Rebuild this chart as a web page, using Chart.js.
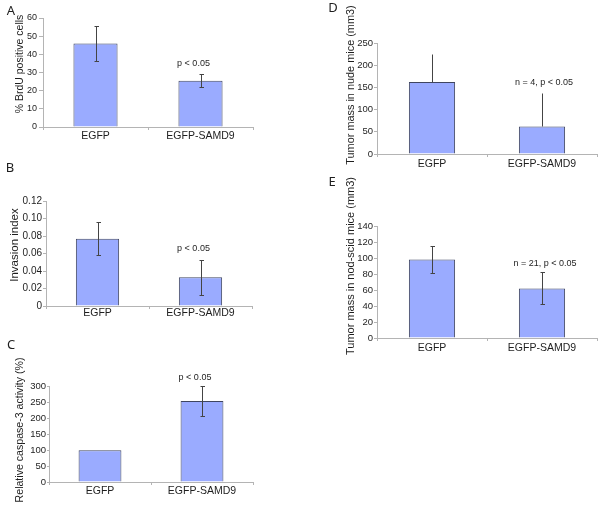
<!DOCTYPE html>
<html>
<head>
<meta charset="utf-8">
<script src="https://cdn.jsdelivr.net/npm/chart.js@4/dist/chart.umd.min.js"></script>
<style>
    html, body { margin: 0; padding: 0; background: #fff; }
    #fig { position: relative; width: 600px; height: 509px; overflow: hidden; background: #fff; }
    #fig canvas { position: absolute; }
</style>
</head>
<body>
<div id="fig"></div>
<script>
/* SAMD9 figure: five small bar panels A-E */
const categories = ["EGFP", "EGFP-SAMD9"];

const brduPct = [46, 25.5];
const brduErr = [9.5, 3.5];

const invasionIdx = [0.077, 0.033];
const invasionErr = [0.019, 0.02];

const caspasePct = [99, 253];
const caspaseErr = [0, 47];

const nudeMass = [162, 62];
const nudeErr = [64, 75];

const nodScidMass = [98, 62];
const nodScidErr = [17, 20];

/* y axis ranges: [max, step] */
const yRangeA = [60, 10];
const yRangeB = [0.12, 0.02];
const yRangeC = [300, 50];
const yRangeD = [250, 50];
const yRangeE = [140, 20];

const panels = [
    { letter: "A", values: brduPct, err: brduErr, range: yRangeA, title: "% BrdU positive cells", note: "p < 0.05", lower: true, caps: true },
    { letter: "B", values: invasionIdx, err: invasionErr, range: yRangeB, title: "Invasion index", note: "p < 0.05", lower: true, caps: true },
    { letter: "C", values: caspasePct, err: caspaseErr, range: yRangeC, title: "Relative caspase-3 activity (%)", note: "p < 0.05", lower: true, caps: true },
    { letter: "D", values: nudeMass, err: nudeErr, range: yRangeD, title: "Tumor mass in nude mice (mm3)", note: "n = 4, p < 0.05", lower: false, caps: false },
    { letter: "E", values: nodScidMass, err: nodScidErr, range: yRangeE, title: "Tumor mass in nod-scid mice (mm3)", note: "n = 21, p < 0.05", lower: true, caps: true }
];

/* page geometry of each panel (px) */
const layout = {
    A: { cx: 0,   cy: 0,   left: 43,  right: 253, top: 18,  bottom: 127, lx: 11,  ly: 11,  tx: 20,  ty: 64,  tsize: 10.5, tick: 9,   tLen: 4, tPad: 2, noteDx: -7, noteGap: 11, labPad: 0 },
    B: { cx: 0,   cy: 160, left: 46,  right: 252, top: 201, bottom: 306, lx: 10,  ly: 168, tx: 15,  ty: 245, tsize: 11.5, tick: 10,  tLen: 3, tPad: 1, noteDx: -7, noteGap: 11, labPad: -2 },
    C: { cx: 0,   cy: 330, left: 49,  right: 253, top: 386, bottom: 482, lx: 11,  ly: 345, tx: 20,  ty: 430, tsize: 10.6, tick: 9.5, tLen: 2, tPad: 1, noteDx: -7, noteGap: 8,  labPad: 0 },
    D: { cx: 300, cy: 0,   left: 377, right: 597, top: 43,  bottom: 154, lx: 333, ly: 8,   tx: 351, ty: 85,  tsize: 10.9, tick: 9.5, tLen: 3, tPad: 1, noteDx: 2,  noteGap: 11, labPad: 1 },
    E: { cx: 300, cy: 160, left: 377, right: 597, top: 226, bottom: 338, lx: 332, ly: 182, tx: 351, ty: 266, tsize: 11,   tick: 9.5, tLen: 3, tPad: 1, noteDx: 3,  noteGap: 9,  labPad: 1 }
};

const FONT = "'Liberation Sans', Arial, sans-serif";
const AXIS = "#b4b4b4";
const INK = "#1e1e1e";
const X_AXIS_H = 22;

/* ---------- plugins ---------- */
const errorBars = {
    id: "errorBars",
    afterDatasetsDraw(chart) {
        const ds = chart.data.datasets[0];
        const { ctx, scales: { x, y } } = chart;
        ctx.save();
        ctx.strokeStyle = "#444";
        ctx.lineWidth = 1;
        ds.data.forEach((v, i) => {
            const e = ds.errPlus[i];
            if (!e) return;
            const px = Math.round(x.getPixelForValue(i)) + 0.5;
            const top = Math.round(y.getPixelForValue(v + e)) + 0.5;
            const bot = Math.round(y.getPixelForValue(ds.lower ? v - e : v)) + 0.5;
            ctx.beginPath();
            ctx.moveTo(px, top); ctx.lineTo(px, bot);
            if (ds.caps) {
                ctx.moveTo(px - 2, top); ctx.lineTo(px + 2.5, top);
                if (ds.lower) { ctx.moveTo(px - 2, bot); ctx.lineTo(px + 2.5, bot); }
            }
            ctx.stroke();
        });
        // significance note over the second bar
        const g = ds.geo;
        const i = 1;
        const ny = y.getPixelForValue(ds.data[i] + ds.errPlus[i]) - g.noteGap;
        ctx.fillStyle = INK;
        ctx.font = "9px " + FONT;
        ctx.textAlign = "center";
        ctx.textBaseline = "middle";
        ctx.fillText(ds.note, x.getPixelForValue(i) + g.noteDx, ny);
        ctx.restore();
    }
};

const panelText = {
    id: "panelText",
    afterDraw(chart) {
        const ds = chart.data.datasets[0];
        const g = ds.geo;
        const ctx = chart.ctx;
        ctx.save();
        ctx.fillStyle = INK;
        ctx.textAlign = "center";
        ctx.textBaseline = "middle";
        ctx.font = "13px 'Noto Sans', 'Open Sans', sans-serif";
        ctx.fillText(ds.letter, g.lx - g.cx, g.ly - g.cy);
        ctx.translate(g.tx - g.cx, g.ty - g.cy);
        ctx.rotate(-Math.PI / 2);
        ctx.font = g.tsize + "px " + FONT;
        ctx.fillText(ds.title, 0, 0);
        ctx.restore();
    }
};

/* ---------- build ---------- */
function makePanel(p) {
    const g = layout[p.letter];
    const w = g.right - g.cx + 3;
    const h = g.bottom - g.cy + X_AXIS_H;
    const cv = document.createElement("canvas");
    cv.width = w; cv.height = h;
    cv.style.left = g.cx + "px";
    cv.style.top = g.cy + "px";
    cv.style.width = w + "px";
    cv.style.height = h + "px";
    document.getElementById("fig").appendChild(cv);

    new Chart(cv, {
        type: "bar",
        data: {
            labels: categories,
            datasets: [{
                data: p.values,
                errPlus: p.err,
                lower: p.lower,
                caps: p.caps,
                note: p.note,
                letter: p.letter,
                title: p.title,
                geo: g,
                backgroundColor: "#9aabff",
                borderColor: "#3f4560",
                borderWidth: 1,
                barPercentage: 0.42,
                categoryPercentage: 1
            }]
        },
        options: {
            responsive: false,
            animation: false,
            devicePixelRatio: 1,
            layout: { padding: { left: 0, top: g.top - g.cy, right: w - (g.right - g.cx), bottom: 0 } },
            plugins: { legend: { display: false }, tooltip: { enabled: false } },
            scales: {
                x: {
                    offset: true,
                    grid: { offset: true, drawOnChartArea: false, tickLength: 3, color: AXIS },
                    border: { color: AXIS },
                    ticks: { color: INK, font: { family: FONT, size: 10.5 }, padding: g.labPad, maxRotation: 0 },
                    afterFit: s => { s.height = X_AXIS_H; }
                },
                y: {
                    min: 0,
                    max: p.range[0],
                    grid: { drawOnChartArea: false, tickLength: g.tLen, color: AXIS },
                    border: { color: AXIS },
                    ticks: { stepSize: p.range[1], color: INK, font: { family: FONT, size: g.tick }, padding: g.tPad },
                    afterFit: s => { s.width = g.left - g.cx; }
                }
            }
        },
        plugins: [errorBars, panelText]
    });
}

panels.forEach(makePanel);
</script>
</body>
</html>
